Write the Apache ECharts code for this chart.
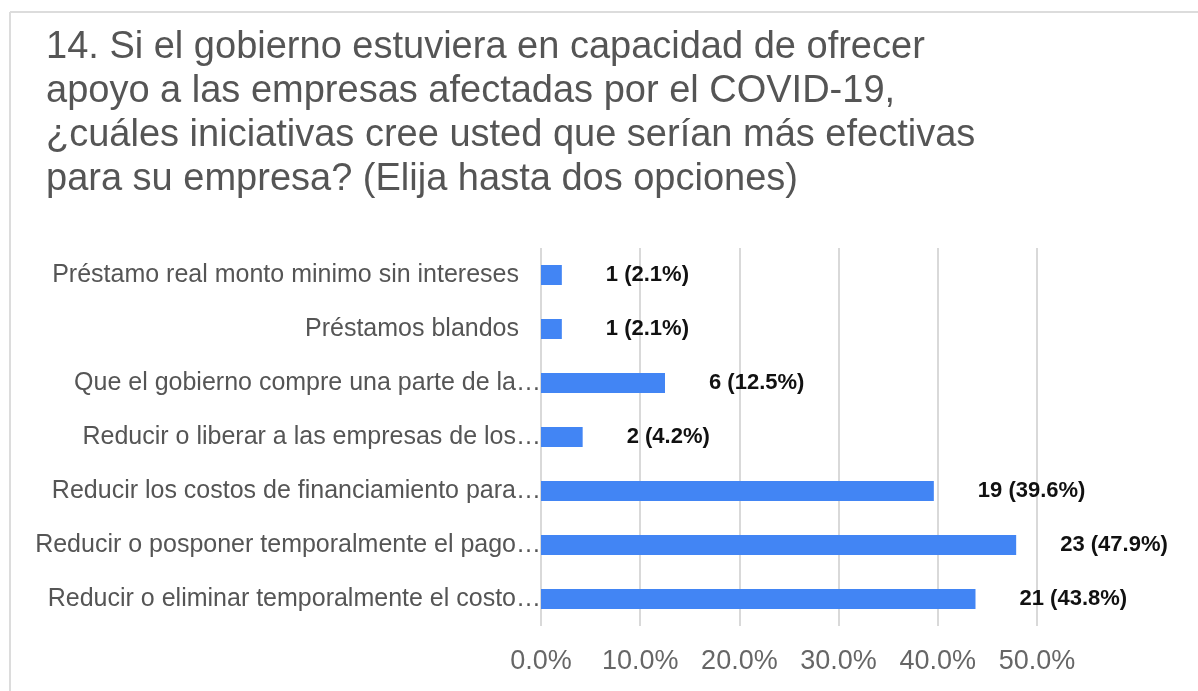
<!DOCTYPE html>
<html>
<head>
<meta charset="utf-8">
<script src="https://cdn.jsdelivr.net/npm/echarts@6/dist/echarts.min.js"></script>
<style>
  html, body { margin: 0; padding: 0; background: #fff; }
  #chart { width: 1198px; height: 691px; }
</style>
</head>
<body>
<div id="chart"></div>
<script>
// 数据
const titleText = '14. Si el gobierno estuviera en capacidad de ofrecer\napoyo a las empresas afectadas por el COVID-19,\n¿cuáles iniciativas cree usted que serían más efectivas\npara su empresa? (Elija hasta dos opciones)';
const categories = [
  'Préstamo real monto minimo sin intereses',
  'Préstamos blandos',
  'Que el gobierno compre una parte de la…',
  'Reducir o liberar a las empresas de los…',
  'Reducir los costos de financiamiento para…',
  'Reducir o posponer temporalmente el pago…',
  'Reducir o eliminar temporalmente el costo…'
];
const counts = [1, 1, 6, 2, 19, 23, 21];
const percents = [2.1, 2.1, 12.5, 4.2, 39.6, 47.9, 43.8];
const xTicks = [0, 10, 20, 30, 40, 50];

const font = 'Liberation Sans, Arial, sans-serif';
const chart = echarts.init(document.getElementById('chart'));

chart.setOption({
  animation: false,
  title: {
    text: titleText,
    left: 41,
    top: 21,
    textStyle: { fontFamily: font, fontSize: 38, fontWeight: 'normal', color: '#555', lineHeight: 44 }
  },
  // 外框
  graphic: [
    { type: 'line', shape: { x1: 10, y1: 12, x2: 1198, y2: 12 }, style: { stroke: '#dcdcdc', lineWidth: 2 } },
    { type: 'line', shape: { x1: 10, y1: 12, x2: 10, y2: 691 }, style: { stroke: '#dcdcdc', lineWidth: 2 } }
  ],
  grid: { left: 541, right: 161, top: 248, bottom: 65, containLabel: false },
  xAxis: {
    type: 'value',
    min: xTicks[0],
    max: xTicks[xTicks.length - 1],
    interval: 10,
    axisLine: { show: false },
    axisTick: { show: false },
    splitLine: { lineStyle: { color: '#d9d9d9', width: 2 } },
    axisLabel: {
      fontFamily: font, fontSize: 27, color: '#666', margin: 22,
      formatter: v => v.toFixed(1) + '%'
    }
  },
  yAxis: {
    type: 'category',
    data: categories,
    inverse: true,
    axisLine: { show: false },
    axisTick: { show: false },
    axisLabel: {
      margin: 0,
      formatter: v => (v.endsWith('…') ? '{a|' + v + '}' : '{b|' + v + '}'),
      rich: {
        a: { fontFamily: font, fontSize: 25, color: '#555' },
        b: { fontFamily: font, fontSize: 25, color: '#555', padding: [0, 22, 0, 0] }
      }
    }
  },
  series: [{
    type: 'bar',
    data: percents,
    barWidth: 20,
    itemStyle: { color: '#4285F4' },
    label: {
      show: true,
      position: 'right',
      distance: 44,
      fontFamily: font,
      fontSize: 22,
      fontWeight: 'bold',
      color: '#111',
      formatter: p => counts[p.dataIndex] + ' (' + percents[p.dataIndex].toFixed(1) + '%)'
    }
  }]
});
</script>
</body>
</html>
